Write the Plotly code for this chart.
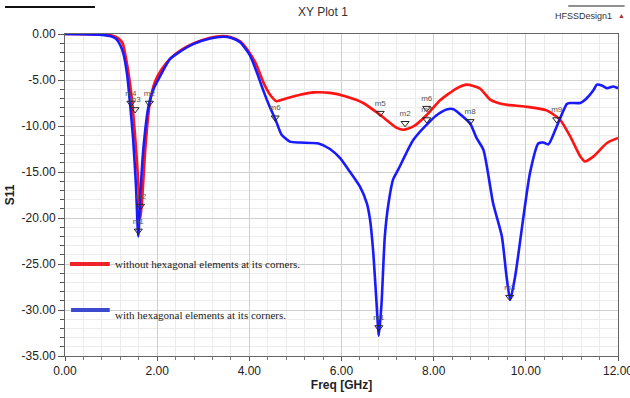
import plotly.graph_objects as go

# ---- data ----
freq_red = [0, 0.4, 0.8, 1.0, 1.15, 1.25, 1.3, 1.4, 1.47, 1.55, 1.6, 1.64, 1.68, 1.75, 1.84, 1.95,
            2.1, 2.3, 2.5, 2.8, 3.15, 3.43, 3.6, 3.8, 4.0, 4.15, 4.3, 4.45, 4.59, 4.8, 5.1, 5.4,
            5.75, 6.1, 6.47, 6.84, 7.2, 7.35, 7.56, 7.85, 8.14, 8.5, 8.72, 9.0, 9.22, 9.4, 9.6,
            10.0, 10.45, 10.74, 10.96, 11.18, 11.28, 11.47, 11.76, 12.0]
s11_red = [0, -0.02, -0.08, -0.15, -0.45, -1.0, -2.0, -5.0, -8.0, -13.0, -17.0, -20.0, -17.5, -12.0,
           -7.5, -5.2, -3.8, -2.6, -1.8, -1.0, -0.4, -0.22, -0.35, -0.8, -2.0, -3.3, -5.2, -6.6,
           -7.3, -7.0, -6.6, -6.35, -6.4, -6.8, -7.5, -8.8, -10.2, -10.4, -10.05, -8.8, -7.2,
           -5.9, -5.5, -5.9, -7.1, -7.5, -7.7, -7.9, -8.3, -9.3, -11.1, -13.3, -13.85, -13.3,
           -11.85, -11.3]

freq_blue = [0, 0.4, 0.8, 1.0, 1.1, 1.2, 1.27, 1.35, 1.41, 1.48, 1.54, 1.59, 1.64, 1.7, 1.81, 1.92,
             2.02, 2.28, 2.5, 2.78, 3.15, 3.43, 3.6, 3.8, 4.01, 4.15, 4.3, 4.45, 4.56, 4.7, 4.88,
             5.1, 5.5, 5.75, 5.97, 6.15, 6.4, 6.55, 6.62, 6.69, 6.76, 6.81, 6.87, 6.94, 7.02, 7.12,
             7.23, 7.4, 7.56, 7.92, 8.1, 8.28, 8.43, 8.64, 8.79, 8.93, 9.08, 9.29, 9.48, 9.58,
             9.66, 9.77, 9.95, 10.09, 10.27, 10.38, 10.49, 10.67, 10.89, 10.96, 11.18, 11.3,
             11.47, 11.54, 11.65, 11.76, 11.9, 12.0]
s11_blue = [0, -0.02, -0.1, -0.25, -0.5, -1.2, -2.2, -4.5, -7.5, -11.5, -16.5, -22.0, -17.0, -12.5,
            -7.9, -6.0, -5.0, -2.7, -1.9, -1.1, -0.5, -0.3, -0.4, -0.9, -2.3, -4.0, -6.1, -8.0,
            -9.2, -10.95, -11.7, -11.8, -11.9, -12.5, -13.5, -14.75, -16.6, -18.4, -20.2, -23.8,
            -29.2, -32.8, -29.2, -22.0, -18.4, -15.8, -14.75, -13.0, -11.5, -9.5, -8.7, -8.2,
            -8.17, -9.0, -9.7, -11.3, -12.6, -18.4, -22.0, -26.3, -28.9, -26.3, -19.8, -15.1,
            -11.9, -11.8, -12.0, -10.05, -7.6, -7.5, -7.5, -7.1, -6.1, -5.5, -5.6, -5.9, -5.7, -5.9]

marker_labels = ["m4", "m3", "m2", "m2", "m1", "m6", "m1", "m5", "m2", "m6", "m7", "m8", "m3", "m9"]
marker_freq = [1.43, 1.52, 1.83, 1.64, 1.59, 4.56, 6.81, 6.84, 7.38, 7.85, 7.85, 8.79, 9.65, 10.67]
marker_s11 = [-7.5, -8.2, -7.5, -18.7, -21.4, -9.1, -31.9, -8.6, -9.7, -8.06, -9.3, -9.5, -28.6, -9.3]

y_ticks = [0, -5, -10, -15, -20, -25, -30, -35]
y_tick_text = ["0.00", "-5.00", "-10.00", "-15.00", "-20.00", "-25.00", "-30.00", "-35.00"]
x_ticks = [0, 2, 4, 6, 8, 10, 12]
x_tick_text = ["0.00", "2.00", "4.00", "6.00", "8.00", "10.00", "12.00"]

legend_red = "without hexagonal elements at its corners."
legend_blue = "with hexagonal elements at its corners."

SANS = "Liberation Sans, Arial, sans-serif"
SERIF = "Liberation Serif, Times New Roman, serif"

fig = go.Figure()
fig.add_trace(go.Scatter(x=freq_red, y=s11_red, mode="lines",
                         line=dict(color="#ff1414", width=2.6, shape="spline", smoothing=0.6),
                         showlegend=False))
fig.add_trace(go.Scatter(x=freq_blue, y=s11_blue, mode="lines",
                         line=dict(color="#1a1aff", width=2.6, shape="spline", smoothing=0.6),
                         showlegend=False))
fig.add_trace(go.Scatter(x=marker_freq, y=marker_s11, mode="markers+text",
                         text=marker_labels, textposition="top center",
                         textfont=dict(family=SANS, size=8, color="#555555"),
                         marker=dict(symbol="triangle-down-open", size=7, color="#222222",
                                     line=dict(width=1, color="#222222")),
                         showlegend=False))

fig.update_layout(
    width=630, height=398,
    margin=dict(l=65, r=12, t=34, b=42, autoexpand=False),
    paper_bgcolor="white", plot_bgcolor="white",
    xaxis=dict(range=[0, 12], tickvals=x_ticks, ticktext=x_tick_text, automargin=False,
               ticklabeloverflow="allow",
               showgrid=True, gridcolor="#cfcfcf", gridwidth=1,
               minor=dict(dtick=0.4, showgrid=True, gridcolor="#ececec", ticks="outside",
                          ticklen=3, tickcolor="#777"),
               ticks="outside", ticklen=4, tickcolor="#555",
               showline=True, linecolor="#666", linewidth=1, mirror=True,
               tickfont=dict(family=SANS, size=12, color="#222"),
               zeroline=False,
               title=dict(text="<b>Freq [GHz]</b>", standoff=0,
                          font=dict(family=SANS, size=12, color="#222"))),
    yaxis=dict(range=[-35, 0], tickvals=y_ticks, ticktext=y_tick_text, automargin=False,
               showgrid=True, gridcolor="#cfcfcf", gridwidth=1,
               minor=dict(dtick=1, showgrid=True, gridcolor="#ececec", ticks="outside",
                          ticklen=4, tickcolor="#555"),
               ticks="outside", ticklen=6, tickcolor="#555",
               showline=True, linecolor="#666", linewidth=1, mirror=True,
               tickfont=dict(family=SANS, size=12, color="#222"),
               zeroline=False,
               title=dict(text="<b>S11</b>", standoff=4,
                          font=dict(family=SANS, size=12, color="#222"))),
)

# legend drawn in-plot like HFSS
fig.add_shape(type="line", xref="paper", yref="paper", x0=0.009, x1=0.081, y0=0.2857, y1=0.2857,
              line=dict(color="#ee2228", width=4))
fig.add_shape(type="line", xref="paper", yref="paper", x0=0.011, x1=0.081, y0=0.143, y1=0.143,
              line=dict(color="#3c4ad0", width=4))
fig.add_annotation(xref="paper", yref="paper", x=0.087, y=0.2857, xanchor="left", yanchor="middle",
                   text=legend_red, showarrow=False, font=dict(family=SERIF, size=11, color="#222"))
fig.add_annotation(xref="paper", yref="paper", x=0.087, y=0.127, xanchor="left", yanchor="middle",
                   text=legend_blue, showarrow=False, font=dict(family=SERIF, size=11, color="#222"))

# header decorations
fig.add_annotation(xref="paper", yref="paper", x=0.4665, y=1.068, xanchor="center", yanchor="middle",
                   text="XY Plot 1", showarrow=False,
                   font=dict(family=SANS, size=12, color="#333"))
fig.add_annotation(xref="paper", yref="paper", x=0.993, y=1.056, xanchor="right", yanchor="middle",
                   text="HFSSDesign1", showarrow=False,
                   font=dict(family=SANS, size=9, color="#333"))
fig.add_annotation(xref="paper", yref="paper", x=1.006, y=1.056, xanchor="center", yanchor="middle",
                   text="▲", showarrow=False, font=dict(size=7, color="#b03030"))
fig.add_shape(type="line", xref="paper", yref="paper", x0=-0.1085, x1=0.0542, y0=1.084, y1=1.084,
              line=dict(color="#111", width=2))
fig.add_shape(type="line", xref="paper", yref="paper", x0=0.91, x1=1.012, y0=1.087, y1=1.087,
              line=dict(color="#222", width=1))

fig.write_html("out.html", config={"displayModeBar": False},
               post_script="document.body.style.margin='0px';")
